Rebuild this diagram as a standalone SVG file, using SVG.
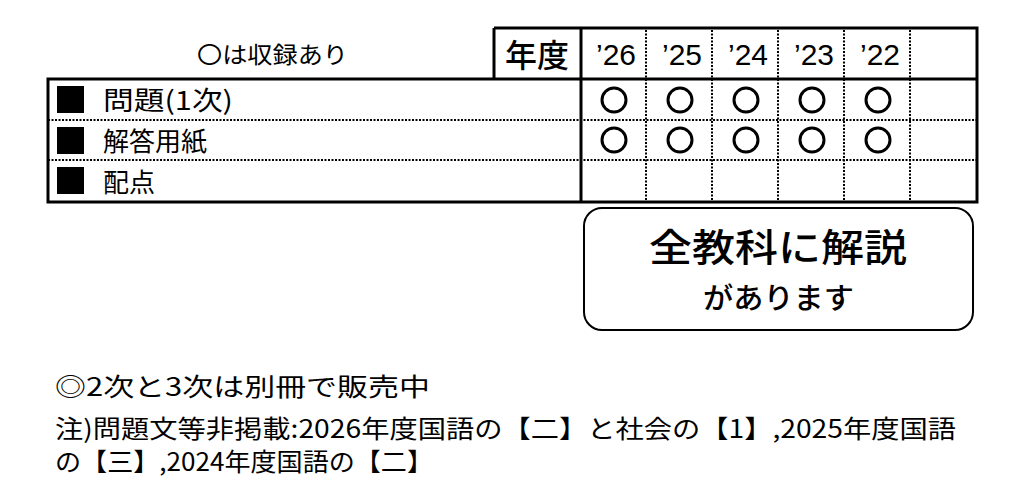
<svg xmlns="http://www.w3.org/2000/svg" width="1028" height="498" viewBox="0 0 1028 498">
<style>
.t{font-family:"Noto Sans CJK JP","Noto Sans",sans-serif;fill:#000}
.y{font-family:"Liberation Sans Narrow","Liberation Sans",sans-serif;font-size:30px;fill:#000}
.b{stroke:#000;stroke-width:3;fill:none}
.d{stroke:#000;stroke-width:2;stroke-dasharray:2 1.5;fill:none}
.c{stroke:#000;stroke-width:3;fill:none}
</style>
<rect width="1028" height="498" fill="#fff"/>
<g id="table">
<text class="t" x="197" y="63" font-size="23" textLength="151" lengthAdjust="spacingAndGlyphs">〇は収録あり</text>
<path class="d" d="M48 120H977M48 160H977M646 30V202M712 30V202M778 30V202M844 30V202M910 30V202"/>
<path class="b" d="M494 28H977V202H48V79H977M494 28V79M581 28V202"/>
<text class="t" x="537" y="67" font-size="32" text-anchor="middle" font-weight="500">年度</text>
<text class="y" x="596" y="65" textLength="40" lengthAdjust="spacingAndGlyphs">’26</text>
<text class="y" x="662" y="65" textLength="40" lengthAdjust="spacingAndGlyphs">’25</text>
<text class="y" x="728" y="65" textLength="40" lengthAdjust="spacingAndGlyphs">’24</text>
<text class="y" x="794" y="65" textLength="40" lengthAdjust="spacingAndGlyphs">’23</text>
<text class="y" x="860" y="65" textLength="40" lengthAdjust="spacingAndGlyphs">’22</text>
<rect x="57" y="86" width="27" height="27"/><rect x="57" y="127" width="27" height="27"/><rect x="57" y="167" width="27" height="27"/>
<text class="t" x="103" y="110" font-size="26" textLength="130" lengthAdjust="spacingAndGlyphs">問題(1次)</text>
<text class="t" x="103" y="151" font-size="26">解答用紙</text>
<text class="t" x="103" y="192" font-size="26">配点</text>
<g class="c">
<circle cx="614" cy="100" r="12"/><circle cx="680" cy="100" r="12"/><circle cx="746" cy="100" r="12"/><circle cx="812" cy="100" r="12"/><circle cx="878" cy="100" r="12"/>
<circle cx="614" cy="140" r="12"/><circle cx="680" cy="140" r="12"/><circle cx="746" cy="140" r="12"/><circle cx="812" cy="140" r="12"/><circle cx="878" cy="140" r="12"/>
</g>
</g>
<g id="box">
<rect x="584" y="208" width="389" height="122" rx="18" fill="#fff" stroke="#000" stroke-width="2"/>
<text class="t" x="649" y="261" font-size="38" font-weight="500" textLength="258" lengthAdjust="spacingAndGlyphs">全教科に解説</text>
<text class="t" x="703" y="309" font-size="29" font-weight="500" textLength="151" lengthAdjust="spacingAndGlyphs">があります</text>
</g>
<g id="notes" class="t" font-size="25">
<text x="55" y="396" textLength="375" lengthAdjust="spacingAndGlyphs">◎2次と3次は別冊で販売中</text>
<text x="55" y="438" textLength="901" lengthAdjust="spacingAndGlyphs">注)問題文等非掲載:2026年度国語の【二】と社会の【1】,2025年度国語</text>
<text x="55" y="471" textLength="378" lengthAdjust="spacingAndGlyphs">の【三】,2024年度国語の【二】</text>
</g>
</svg>
